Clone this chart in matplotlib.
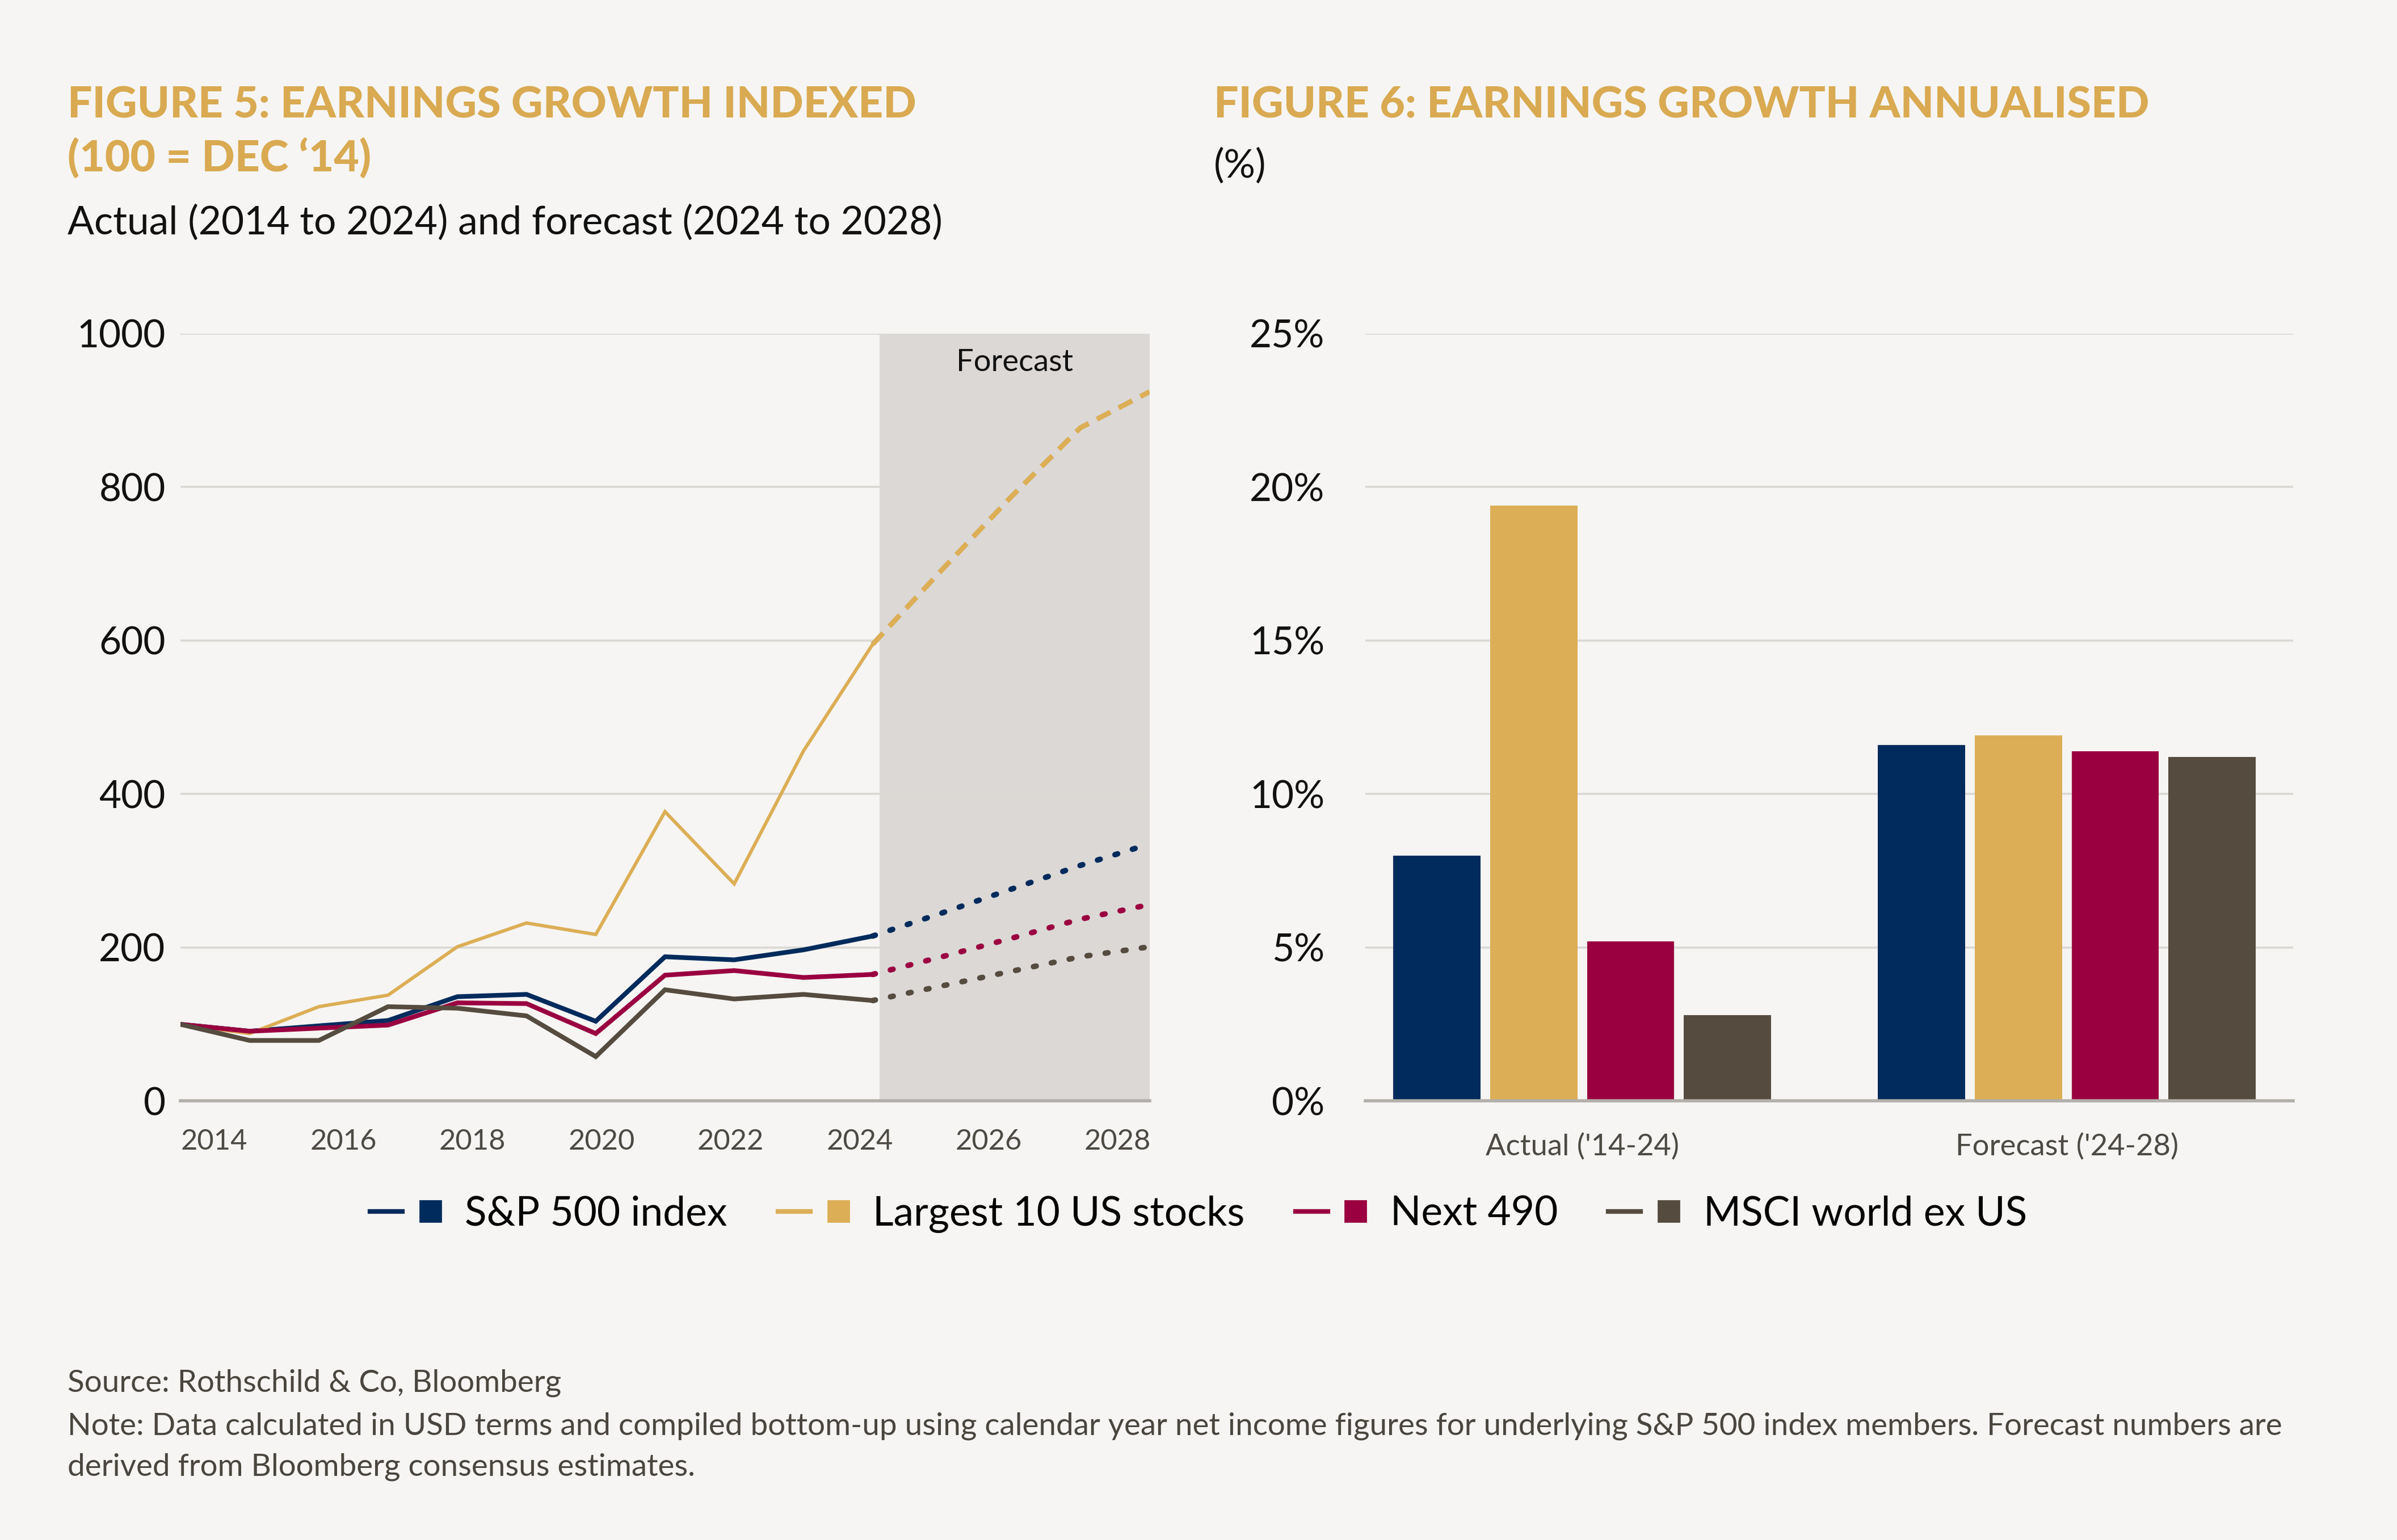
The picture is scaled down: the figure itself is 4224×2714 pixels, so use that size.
import matplotlib

matplotlib.use("Agg")
import matplotlib.pyplot as plt
import numpy as np
from matplotlib.legend_handler import HandlerTuple
from matplotlib.lines import Line2D
from matplotlib.ticker import PercentFormatter

plt.rcParams["font.family"] = ["Lato", "DejaVu Sans"]

# --- data -------------------------------------------------------------
years = list(range(2014, 2029))
n_actual = 11  # Dec '14 .. Dec '24, forecast runs on to '28

series_names = ["S&P 500 index", "Largest 10 US stocks", "Next 490", "MSCI world ex US"]
sp500 = [100, 91, 98, 105, 136, 139, 104, 188, 184, 197, 215, 245, 276, 307, 335]
largest10 = [100, 88, 123, 138, 201, 232, 217, 377, 283, 456, 595, 692, 787, 877, 924]
next490 = [100, 91, 95, 99, 128, 127, 88, 164, 170, 161, 165, 188, 212, 237, 256]
msci_ex_us = [100, 79, 79, 123, 121, 111, 58, 145, 133, 139, 131, 150, 169, 188, 201]

xtick_labels = ["2014", "2016", "2018", "2020", "2022", "2024", "2026", "2028"]
index_ticks = [0, 200, 400, 600, 800, 1000]

bar_groups = ["Actual ('14-24)", "Forecast ('24-28)"]
growth_actual = [8.0, 19.4, 5.2, 2.8]
growth_forecast = [11.6, 11.9, 11.4, 11.2]
pct_ticks = [0, 5, 10, 15, 20, 25]

# --- style -------------------------------------------------------------
BG = "#f6f5f3"
GOLD_TITLE = "#d9aa52"
COLORS = ["#002b5c", "#dcae56", "#9a0040", "#554c3f"]
GRID = "#dcd9d5"
BASE = "#b3b0ab"
SHADE = "#dbd8d6"
TICK_GRAY = "#4d4a44"

W, H = 1568, 1007  # layout grid of the reference, in its own pixels


def fx(x):
    return x / W


def fy(y):
    return 1 - y / H


fig = plt.figure(figsize=(4224 / 270, 2714 / 270), dpi=270, facecolor=BG)

# --- figure 5: indexed lines ------------------------------------------
ax1 = fig.add_axes([fx(118), fy(720), fx(752 - 118), (720 - 218) / H])
ax1.set_facecolor(BG)
x = np.array(years) - years[0]
ax1.axvspan(10.1, 14, color=SHADE, zorder=0, lw=0)
ax1.text(12.05, 962, "Forecast", ha="center", va="center", fontsize=14.5, color="#111111")

widths = [2.2, 1.6, 2.2, 2.2]
for vals, color, lw in zip([sp500, largest10, next490, msci_ex_us], COLORS, widths):
    vals = np.array(vals)
    ax1.plot(x[:n_actual], vals[:n_actual], color=color, lw=lw, zorder=3,
             solid_joinstyle="miter")
    if color == COLORS[1]:
        ax1.plot(x[n_actual - 1:], vals[n_actual - 1:], color=color, lw=2.4,
                 linestyle=(0, (3.0, 1.8)), dash_capstyle="butt", zorder=3)
    else:
        ax1.plot(x[n_actual - 1:], vals[n_actual - 1:], color=color, lw=2.6,
                 linestyle=(0, (0.5, 2.8)), dash_capstyle="round", zorder=3)

ax1.set_xlim(0, 14)
ax1.set_ylim(0, 1000)
ax1.set_yticks(index_ticks)
ax1.set_yticklabels([str(v) for v in index_ticks])
ax1.set_xticks(np.linspace(0.49, 13.54, len(xtick_labels)))
ax1.set_xticklabels(xtick_labels)
ax1.tick_params(axis="y", length=0, pad=7, labelsize=18, labelcolor="#111111")
ax1.tick_params(axis="x", length=0, pad=13, labelsize=13.5, labelcolor=TICK_GRAY)
ax1.yaxis.grid(True, color=GRID, lw=1.0)
ax1.set_axisbelow("line")
for side in ["top", "right", "left"]:
    ax1.spines[side].set_visible(False)
ax1.spines["bottom"].set_color(BASE)
ax1.spines["bottom"].set_linewidth(1.5)
ax1.spines["bottom"].set_zorder(2.5)

# --- figure 6: annualised bars ----------------------------------------
ax2 = fig.add_axes([fx(893), fy(720), fx(1500 - 893), (720 - 218) / H])
ax2.set_facecolor(BG)
groups = np.arange(len(bar_groups))
offsets = np.array([-0.3, -0.1, 0.1, 0.3])
for i, color in enumerate(COLORS):
    vals = [growth_actual[i], growth_forecast[i]]
    ax2.bar(groups + offsets[i], vals, width=0.18, color=color, zorder=3, lw=0)

ax2.set_xlim(-0.448, 1.467)
ax2.set_ylim(0, 25)
ax2.set_yticks(pct_ticks)
ax2.yaxis.set_major_formatter(PercentFormatter(100, decimals=0))
ax2.set_xticks(groups)
ax2.set_xticklabels(bar_groups)
ax2.tick_params(axis="y", length=0, pad=19, labelsize=18, labelcolor="#111111")
ax2.tick_params(axis="x", length=0, pad=15, labelsize=14, labelcolor=TICK_GRAY)
ax2.yaxis.grid(True, color=GRID, lw=1.0)
ax2.set_axisbelow(True)
for side in ["top", "right", "left"]:
    ax2.spines[side].set_visible(False)
ax2.spines["bottom"].set_color(BASE)
ax2.spines["bottom"].set_linewidth(1.5)
ax2.spines["bottom"].set_zorder(4)

# --- titles and notes --------------------------------------------------
title_kw = dict(fontsize=20.5, fontweight="black", color=GOLD_TITLE, va="baseline")
fig.text(fx(44), fy(77), "FIGURE 5: EARNINGS GROWTH INDEXED", **title_kw)
fig.text(fx(44), fy(112), "(100 = DEC \u201814)", **title_kw)
fig.text(fx(44), fy(153), "Actual (2014 to 2024) and forecast (2024 to 2028)",
         fontsize=18.5, color="#111111", va="baseline")
fig.text(fx(794), fy(77), "FIGURE 6: EARNINGS GROWTH ANNUALISED", **title_kw)
fig.text(fx(794), fy(116), "(%)", fontsize=18.5, color="#111111", va="baseline")

note_color = "#4a463f"
fig.text(fx(44), fy(910), "Source: Rothschild & Co, Bloomberg", fontsize=14.6,
         color=note_color, va="baseline")
fig.text(fx(44), fy(938),
         "Note: Data calculated in USD terms and compiled bottom-up using calendar year "
         "net income figures for underlying S&P 500 index members. Forecast numbers are",
         fontsize=14.6, color=note_color, va="baseline")
fig.text(fx(44), fy(965), "derived from Bloomberg consensus estimates.", fontsize=14.6,
         color=note_color, va="baseline")

# --- legend ------------------------------------------------------------
handles = []
for color in COLORS:
    line = Line2D([], [], color=color, lw=2.2)
    square = Line2D([], [], color=color, marker="s", markersize=9.5, linestyle="None")
    handles.append((line, square))
fig.legend(handles, series_names, loc="center", bbox_to_anchor=(fx(784), fy(794)),
           ncol=4, frameon=False, fontsize=19,
           handler_map={tuple: HandlerTuple(ndivide=None, pad=0.3)},
           handlelength=1.9, handletextpad=0.45, columnspacing=1.25)

fig.savefig("out.png", dpi=270, facecolor=BG)
plt.close(fig)
